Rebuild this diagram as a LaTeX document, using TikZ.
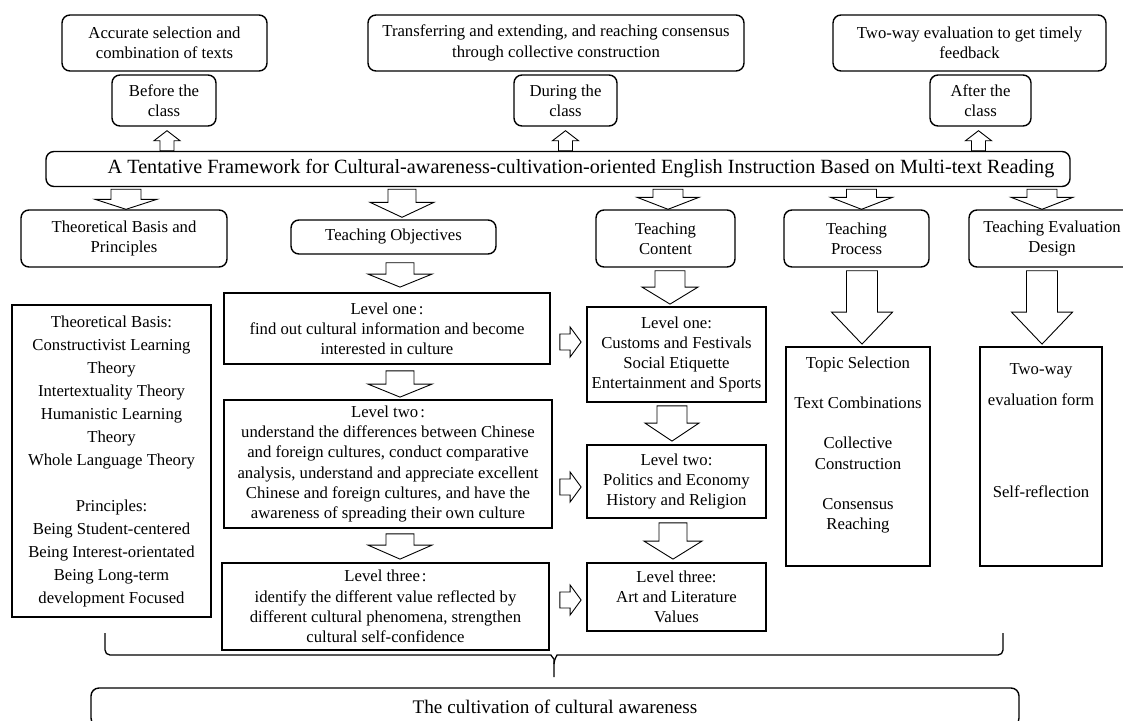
\documentclass[tikz,border=0pt]{standalone}
\usepackage{fontspec}
\setmainfont{Liberation Serif}
\usepackage{tikz}
\usetikzlibrary{calc}

\newcommand{\fwcolon}{\kern2pt:}
\newcommand{\boxfont}{\fontsize{16.7}{20.2}\selectfont}

\tikzset{
  arrshaft/.store in=\arrshaft,
  arrhead/.store in=\arrhead,
  arrtip/.store in=\arrtip,
  arrshaft=14pt, arrhead=31pt, arrtip=12pt,
  basebox/.style={draw, line width=1.4pt, align=center, inner sep=0pt, font=\boxfont},
  roundbox/.style={basebox, rounded corners=8pt},
  levelbox/.style={basebox, line width=1.8pt},
  hollow/.style={draw, line width=0.9pt, line join=miter},
  bdown/.style={hollow, to path={let \p1=(\tikztostart), \p2=(\tikztotarget) in
    (\x1-\arrshaft,\y1) -- (\x1+\arrshaft,\y1) -- (\x1+\arrshaft,\y2+\arrtip)
    -- (\x1+\arrhead,\y2+\arrtip) -- (\x1,\y2) -- (\x1-\arrhead,\y2+\arrtip)
    -- (\x1-\arrshaft,\y2+\arrtip) -- cycle}},
  bup/.style={hollow, to path={let \p1=(\tikztostart), \p2=(\tikztotarget) in
    (\x1-\arrshaft,\y1) -- (\x1+\arrshaft,\y1) -- (\x1+\arrshaft,\y2-\arrtip)
    -- (\x1+\arrhead,\y2-\arrtip) -- (\x1,\y2) -- (\x1-\arrhead,\y2-\arrtip)
    -- (\x1-\arrshaft,\y2-\arrtip) -- cycle}},
  bright/.style={hollow, to path={let \p1=(\tikztostart), \p2=(\tikztotarget) in
    (\x1,\y1-\arrshaft) -- (\x2-\arrtip,\y1-\arrshaft) -- (\x2-\arrtip,\y1-\arrhead)
    -- (\x2,\y1) -- (\x2-\arrtip,\y1+\arrhead) -- (\x2-\arrtip,\y1+\arrshaft)
    -- (\x1,\y1+\arrshaft) -- cycle}},
  bracket/.style={draw, line width=1.3pt, rounded corners=5pt}
}

\begin{document}
\begin{tikzpicture}[x=1pt, y=-1pt]
\clip (0,0) rectangle (1123,720);
\fill[white] (0,0) rectangle (1123,720);

% stages of the class
\node[roundbox, minimum width=205pt, minimum height=56pt] (acc) at (164.5,43) {Accurate selection and\\combination of texts};
\node[roundbox, minimum width=376pt, minimum height=56pt] (trans) at (556,43) {Transferring and extending, and reaching consensus\\through collective construction};
\node[roundbox, minimum width=273pt, minimum height=56pt] (twoway) at (969.5,43) {Two-way evaluation to get timely\\feedback};
\node[roundbox, minimum width=104pt, minimum height=51pt] (before) at (164,100.5) {Before the\\class};
\node[roundbox, minimum width=103pt, minimum height=51pt] (during) at (565.5,100.5) {During the\\class};
\node[roundbox, minimum width=101pt, minimum height=51pt] (after) at (980.5,100.5) {After the\\class};

% framework
\node[roundbox, minimum width=1024pt, minimum height=35pt, font=\fontsize{20.2}{24}\selectfont] (main) at (558,169) {\hspace*{46pt}A Tentative Framework for Cultural-awareness-cultivation-oriented English Instruction Based on Multi-text Reading};

% five parts
\node[roundbox, minimum width=206pt, minimum height=57pt] (tbp) at (124,238.5) {Theoretical Basis and\\Principles};
\node[roundbox, minimum width=205pt, minimum height=34pt] (tobj) at (393.5,237) {Teaching Objectives};
\node[roundbox, minimum width=139pt, minimum height=57pt] (tcont) at (665.5,238.5) {Teaching\\Content};
\node[roundbox, minimum width=145pt, minimum height=57pt] (tproc) at (856.5,238.5) {Teaching\\Process};
\node[roundbox, minimum width=166pt, minimum height=57pt] (teval) at (1052,238.5) {Teaching Evaluation\\Design};

% details
\node[levelbox, minimum width=199pt, minimum height=312pt, font=\fontsize{16.7}{23}\selectfont] (tlist) at (111.5,461) {Theoretical Basis:\\Constructivist Learning\\Theory\\Intertextuality Theory\\Humanistic Learning\\Theory\\Whole Language Theory\\[23pt]Principles:\\Being Student-centered\\Being Interest-orientated\\Being Long-term\\development Focused};
\node[levelbox, minimum width=326pt, minimum height=71pt] (lone) at (387,328.5) {Level one\fwcolon\\find out cultural information and become\\interested in culture};
\node[levelbox, minimum width=328pt, minimum height=128pt] (ltwo) at (388,464) {Level two\fwcolon\\understand the differences between Chinese\\and foreign cultures, conduct comparative\\analysis, understand and appreciate excellent\\Chinese and foreign cultures, and have the\\awareness of spreading their own culture};
\node[levelbox, minimum width=327pt, minimum height=87pt] (lthree) at (385.5,606.5) {Level three\fwcolon\\identify the different value reflected by\\different cultural phenomena, strengthen\\cultural self-confidence};
\node[levelbox, minimum width=179pt, minimum height=95pt] (cone) at (676.5,354.5) {Level one:\\Customs and Festivals\\Social Etiquette\\Entertainment and Sports};
\node[levelbox, minimum width=179pt, minimum height=73pt] (ctwo) at (676.5,481.5) {Level two:\\Politics and Economy\\History and Religion};
\node[levelbox, minimum width=179pt, minimum height=68pt] (cthree) at (676.5,597) {Level three:\\Art and Literature\\Values};
\node[levelbox] (plist) at (858,456.5) {\parbox[c][219pt][t]{144pt}{\centering\vspace*{10pt}Topic Selection\\[20pt]Text Combinations\\[20pt]Collective\\Construction\\[20pt]Consensus\\Reaching}};
\node[levelbox] (elist) at (1041,456.5) {\parbox[c][219pt][t]{122pt}{\centering\vspace*{17pt}Two-way\\[10pt]evaluation form\\[72pt]Self-reflection}};

% result
\node[roundbox, minimum width=928pt, minimum height=38pt, font=\fontsize{19.2}{23}\selectfont] (result) at (555,707) {The cultivation of cultural awareness};

% up arrows
\draw[bup, arrshaft=7pt, arrhead=13pt, arrtip=10pt] ($(main.north -| before.south)+(3,0)$) to ($(before.south)+(0,4)$);
\draw[bup, arrshaft=7pt, arrhead=13pt, arrtip=10pt] (main.north -| during.south) to ($(during.south)+(0,4)$);
\draw[bup, arrshaft=7pt, arrhead=13pt, arrtip=10pt] ($(main.north -| after.south)+(-2,0)$) to ($(after.south)+(0,4)$);

% down arrows to the five parts
\draw[bdown, arrshaft=15pt, arrhead=31pt, arrtip=10pt] ($(main.south -| tbp.north)+(2,2)$) to (tbp.north);
\draw[bdown, arrshaft=14pt, arrhead=32pt, arrtip=15pt] ($(main.south -| tobj.north)+(8.5,2)$) to ($(tobj.north)+(0,-2)$);
\draw[bdown, arrshaft=15pt, arrhead=31pt, arrtip=12pt] ($(main.south -| tcont.north)+(2.5,2)$) to (tcont.north);
\draw[bdown, arrshaft=15pt, arrhead=31pt, arrtip=12pt] ($(main.south -| tproc.north)+(5,2)$) to (tproc.north);
\draw[bdown, arrshaft=15pt, arrhead=31pt, arrtip=12pt] ($(main.south -| teval.north)+(-10,2)$) to (teval.north);

% objectives
\draw[bdown, arrshaft=14pt, arrhead=32pt, arrtip=13pt] ($(tobj.south)+(6.5,8)$) to ($(lone.north)+(0,-5)$);
\draw[bdown, arrshaft=14pt, arrhead=32pt, arrtip=13pt] ($(lone.south)+(13,6)$) to ($(ltwo.north)+(0,-2)$);
\draw[bdown, arrshaft=14pt, arrhead=32pt, arrtip=14pt] ($(ltwo.south)+(12,5)$) to ($(lthree.north)+(0,-3)$);

% content
\draw[bdown, arrshaft=15pt, arrhead=28pt, arrtip=17pt] ($(tcont.south)+(4.5,3)$) to ($(cone.north)+(0,-2)$);
\draw[bdown, arrshaft=15pt, arrhead=27pt, arrtip=18pt] ($(cone.south)+(-4.5,3)$) to ($(ctwo.north)+(0,-3)$);
\draw[bdown, arrshaft=14pt, arrhead=29pt, arrtip=18pt] ($(ctwo.south)+(-3.5,4)$) to ($(cthree.north)+(0,-3)$);

% process and evaluation
\draw[bdown, arrshaft=15.5pt, arrhead=30.5pt, arrtip=32pt] ($(tproc.south)+(5.5,3)$) to ($(plist.north)+(0,-2)$);
\draw[bdown, arrshaft=15.5pt, arrhead=30.5pt, arrtip=32pt] ($(teval.south)+(-10,3)$) to ($(elist.north)+(0,-2)$);

% objectives to content
\draw[bright, arrshaft=8pt, arrhead=15pt, arrtip=11pt] ($(lone.east)+(9,13.5)$) to ($(cone.west)+(-5,0)$);
\draw[bright, arrshaft=8pt, arrhead=15pt, arrtip=11pt] ($(ltwo.east)+(7,23)$) to ($(ctwo.west)+(-5,0)$);
\draw[bright, arrshaft=8pt, arrhead=15pt, arrtip=11pt] ($(lthree.east)+(10,-6.5)$) to ($(cthree.west)+(-5,0)$);

% brace
\draw[bracket] (105,633) -- (105,655) -- (546,655) to[out=0,in=90] (554,664) -- (554,677);
\draw[bracket] (554,664) to[out=90,in=180] (562,655) -- (1003,655) -- (1003,633);
\end{tikzpicture}
\end{document}
